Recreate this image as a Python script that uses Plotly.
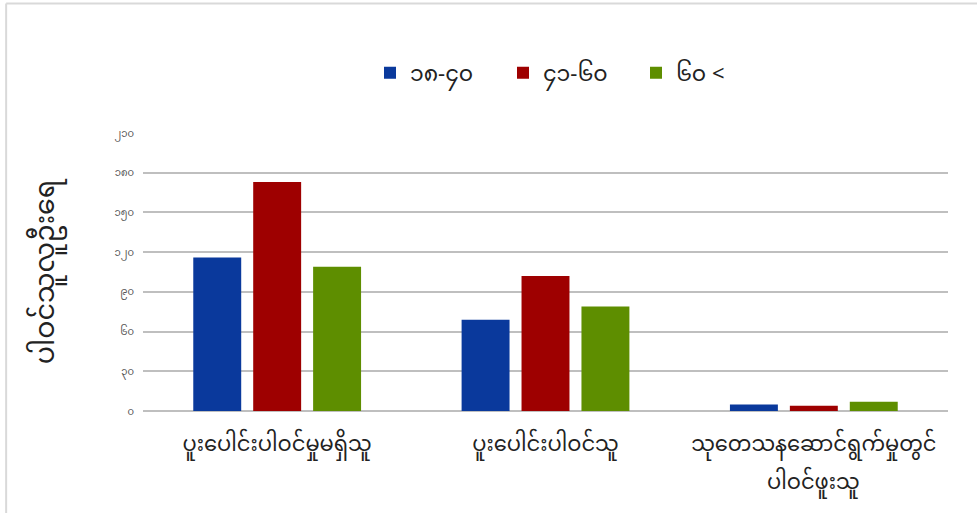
import plotly.graph_objects as go

categories = ["ပူးပေါင်းပါဝင်မှုမရှိသူ", "ပူးပေါင်းပါဝင်သူ", "သုတေသနဆောင်ရွက်မှုတွင်"]
category_second_lines = ["", "", "ပါဝင်ဖူးသူ"]
series_names = ["၁၈-၄၀", "၄၁-၆၀", "၆၀ <"]
age_18_40 = [116, 69, 5]
age_41_60 = [173, 102, 4]
age_60_plus = [109, 79, 7]
tick_values = [0, 30, 60, 90, 120, 150, 180, 210]
tick_labels = ["၀", "၃၀", "၆၀", "၉၀", "၁၂၀", "၁၅၀", "၁၈၀", "၂၁၀"]
y_title = "ပါဝင်သူလူဦးရေ"

colors = ["#0a399c", "#9e0000", "#5e8e00"]
FONT = "Noto Sans Myanmar, Padauk, Myanmar Text, Noto Sans, sans-serif"

fig = go.Figure()
for name, vals, col in zip(series_names, [age_18_40, age_41_60, age_60_plus], colors):
    fig.add_trace(go.Bar(x=categories, y=vals, name=name, marker=dict(color=col, line=dict(width=0))))

annotations = [
    dict(x=cat, y=-0.262, xref="x", yref="paper", text=line2, showarrow=False,
         xanchor="center", yanchor="middle", font=dict(size=21, color="#222222"))
    for cat, line2 in zip(categories, category_second_lines) if line2
]

fig.update_layout(
    width=977, height=513,
    margin=dict(l=143, r=29, t=133, b=102),
    paper_bgcolor="white", plot_bgcolor="white",
    font=dict(family=FONT, color="#222222"),
    barmode="group", bargap=0.33, bargroupgap=0.2,
    showlegend=True,
    legend=dict(orientation="h", x=0.282, xanchor="left", y=1.216, yanchor="middle",
                font=dict(size=22, color="#222222"), traceorder="normal",
                entrywidth=88, entrywidthmode="pixels"),
    xaxis=dict(showgrid=False, showline=False, ticks="", ticklabelstandoff=18,
               tickfont=dict(size=21, color="#222222")),
    yaxis=dict(range=[0, 210], tickvals=tick_values, ticktext=tick_labels,
               tickfont=dict(size=10, color="#555555"),
               showgrid=True, gridcolor="#bfbfbf", gridwidth=1.6,
               zeroline=True, zerolinecolor="#bfbfbf", zerolinewidth=1.6,
               ticks="", ticklabelstandoff=8,
               title=dict(text=y_title, font=dict(size=27, color="#222222"), standoff=52)),
    annotations=annotations,
    shapes=[
        dict(type="line", xref="paper", yref="paper", x0=-0.17, x1=1.04, y0=1.466, y1=1.466,
             line=dict(color="#d9d9d9", width=2)),
        dict(type="line", xref="paper", yref="paper", x0=-0.170, x1=-0.170, y0=1.466, y1=-0.4,
             line=dict(color="#d9d9d9", width=2)),
    ],
)
fig.write_html("out.html", config={"displayModeBar": False},
               post_script="document.body.style.margin='0';")
